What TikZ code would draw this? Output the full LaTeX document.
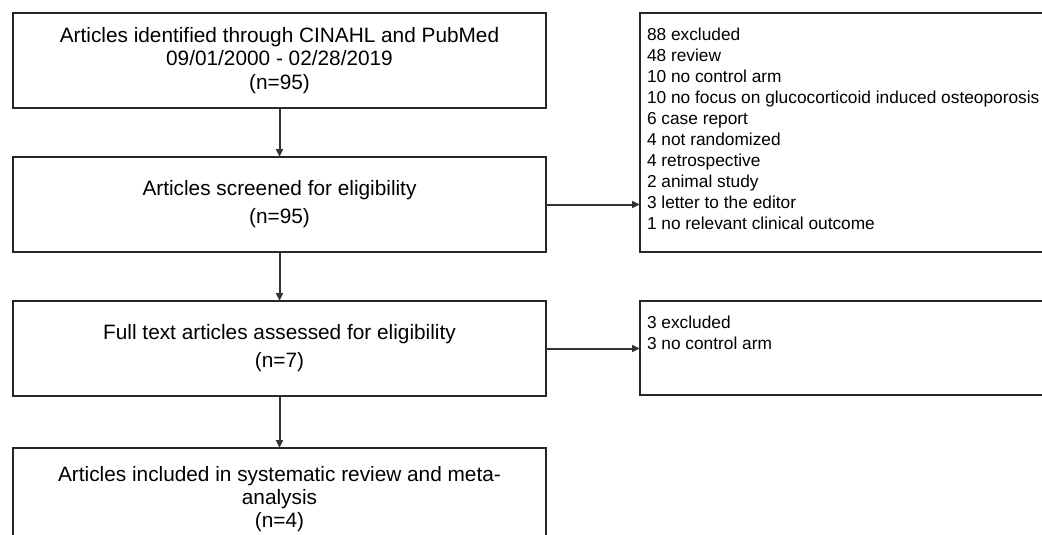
\documentclass[tikz,border=0pt]{standalone}
\usepackage{fontspec}
\setmainfont{Liberation Sans}
\usetikzlibrary{positioning,arrows.meta,calc}
\tikzset{
  >={Triangle[length=8pt,width=7pt]},
  flowstep/.style={rectangle, draw=black!85, line width=2.6pt, outer sep=0pt, inner sep=0pt,
                   minimum width=533pt, minimum height=95pt, align=center, anchor=north},
  exclbox/.style={rectangle, draw=black!85, line width=2.6pt, outer sep=0pt,
                  inner xsep=7pt, inner ysep=15pt, anchor=north west},
  line/.style={draw, line width=2pt, color=black!80, ->}
}
\newcommand{\stepfont}[1]{\fontsize{20.8}{#1}\selectfont}
\newcommand{\exclfont}{\fontsize{17.3}{21}\selectfont}
\newcommand{\flowstep}[3]{node (p#1) [flowstep, font=\stepfont{#2}] {#3}}
\newcommand{\excllist}[2]{\parbox[c][#1][t]{406pt}{\exclfont #2}}

\begin{document}
\begin{tikzpicture}
  \useasboundingbox (0,0) rectangle (1042pt,-535pt);

  % Draw diagram elements
  \path (279.5pt,-13pt) \flowstep{1}{23.5pt}{Articles identified through CINAHL and PubMed\\09/01/2000 - 02/28/2019\\(n=95)};
  \path (p1.south)+(0,-49pt) \flowstep{2}{28pt}{Articles screened for eligibility\\(n=95)};
  \path (p2.south)+(0,-49pt) \flowstep{3}{28pt}{Full text articles assessed for eligibility\\(n=7)};
  \path (p3.south)+(0,-52pt) node (p4) [flowstep, minimum height=103pt, font=\stepfont{23pt}]
    {Articles included in systematic review and meta-\\analysis\\(n=4)};

  \path (p1.north east)+(94pt,0) node (x1) [exclbox] {\excllist{209pt}{88 excluded\\48 review\\10 no control arm\\10 no focus on glucocorticoid induced osteoporosis\\6 case report\\4 not randomized\\4 retrospective\\2 animal study\\3 letter to the editor\\1 no relevant clinical outcome}};
  \path (p3.north east)+(94pt,0) node (x2) [exclbox] {\excllist{64pt}{3 excluded\\3 no control arm}};

  % Draw arrows between elements
  \path [line] (p1) -- (p2);
  \path [line] (p2) -- (p3);
  \path [line] (p3) -- (p4);
  \path [line] (p2.east) -- (p2.east -| x1.west);
  \path [line] (p3.east) -- (p3.east -| x2.west);
\end{tikzpicture}
\end{document}
